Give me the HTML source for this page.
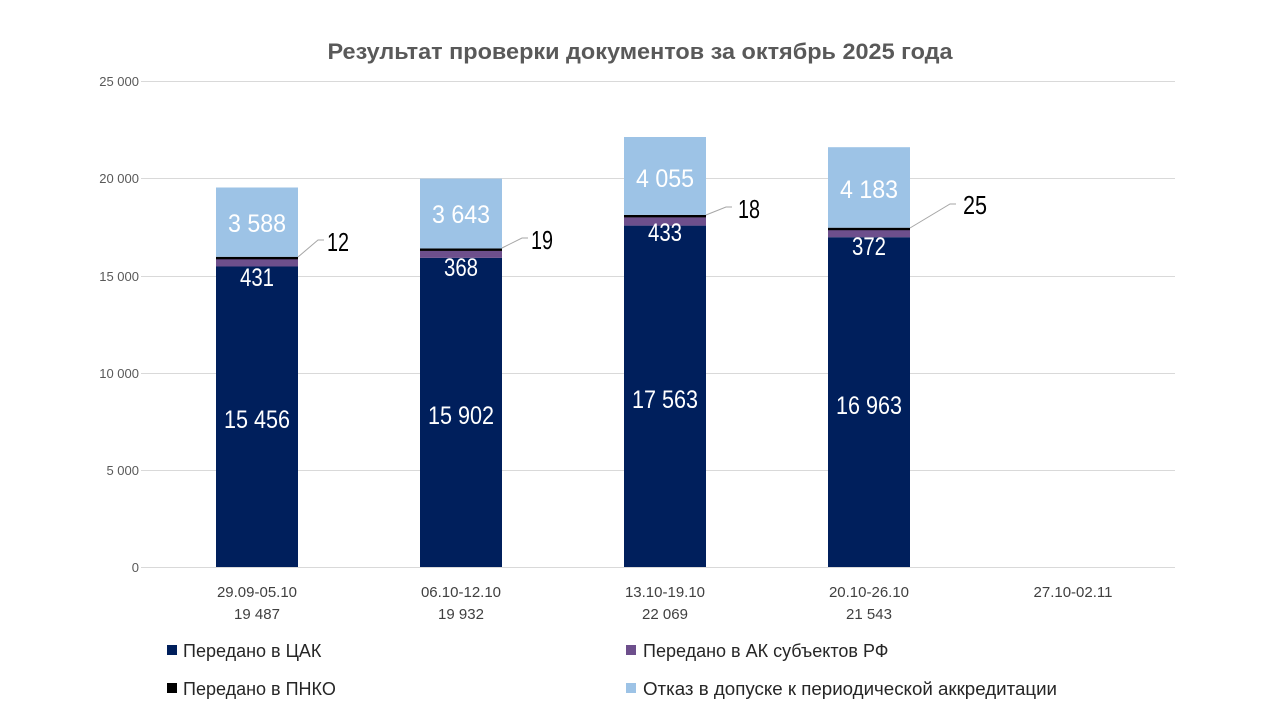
<!DOCTYPE html>
<html><head><meta charset="utf-8"><style>
body{margin:0;background:#fff;}
svg{display:block;font-family:"Liberation Sans",sans-serif;}
</style></head><body>
<svg width="1280" height="720" viewBox="0 0 1280 720">
<text x="640" y="59" text-anchor="middle" font-size="22" font-weight="bold" fill="#595959" textLength="625" lengthAdjust="spacingAndGlyphs">Результат проверки документов за октябрь 2025 года</text>
<g stroke="#d9d9d9" stroke-width="1">
<line x1="141" y1="81.5" x2="1175" y2="81.5"/>
<line x1="141" y1="178.5" x2="1175" y2="178.5"/>
<line x1="141" y1="276.5" x2="1175" y2="276.5"/>
<line x1="141" y1="373.5" x2="1175" y2="373.5"/>
<line x1="141" y1="470.5" x2="1175" y2="470.5"/>
<line x1="141" y1="567.5" x2="1175" y2="567.5"/>
</g>
<g font-size="13" fill="#595959" text-anchor="end">
<text x="139" y="86">25 000</text>
<text x="139" y="183">20 000</text>
<text x="139" y="281">15 000</text>
<text x="139" y="378">10 000</text>
<text x="139" y="475">5 000</text>
<text x="139" y="572">0</text>
</g>
<g>
<rect x="216" y="266.5" width="82" height="300.5" fill="#001f5c"/>
<rect x="216" y="258.1" width="82" height="8.4" fill="#6d4f8c"/>
<rect x="216" y="256.8" width="82" height="2.5" fill="#000"/>
<rect x="216" y="187.5" width="82" height="69.3" fill="#9dc3e6"/>

<rect x="420" y="257.9" width="82" height="309.1" fill="#001f5c"/>
<rect x="420" y="250.7" width="82" height="7.2" fill="#6d4f8c"/>
<rect x="420" y="248.4" width="82" height="2.5" fill="#000"/>
<rect x="420" y="178.6" width="82" height="69.8" fill="#9dc3e6"/>

<rect x="624" y="225.6" width="82" height="341.4" fill="#001f5c"/>
<rect x="624" y="217.2" width="82" height="8.4" fill="#6d4f8c"/>
<rect x="624" y="214.9" width="82" height="2.5" fill="#000"/>
<rect x="624" y="137" width="82" height="77.9" fill="#9dc3e6"/>

<rect x="828" y="237.2" width="82" height="329.8" fill="#001f5c"/>
<rect x="828" y="230" width="82" height="7.2" fill="#6d4f8c"/>
<rect x="828" y="227.7" width="82" height="2.5" fill="#000"/>
<rect x="828" y="147.2" width="82" height="80.5" fill="#9dc3e6"/>
</g>
<g font-size="25" fill="#fff" text-anchor="middle">
<text x="257" y="428" textLength="66" lengthAdjust="spacingAndGlyphs">15 456</text>
<text x="257" y="286" textLength="34" lengthAdjust="spacingAndGlyphs">431</text>
<text x="257" y="232" textLength="58" lengthAdjust="spacingAndGlyphs">3 588</text>
<text x="461" y="424" textLength="66" lengthAdjust="spacingAndGlyphs">15 902</text>
<text x="461" y="276" textLength="34" lengthAdjust="spacingAndGlyphs">368</text>
<text x="461" y="223" textLength="58" lengthAdjust="spacingAndGlyphs">3 643</text>
<text x="665" y="408" textLength="66" lengthAdjust="spacingAndGlyphs">17 563</text>
<text x="665" y="241" textLength="34" lengthAdjust="spacingAndGlyphs">433</text>
<text x="665" y="187" textLength="58" lengthAdjust="spacingAndGlyphs">4 055</text>
<text x="869" y="414" textLength="66" lengthAdjust="spacingAndGlyphs">16 963</text>
<text x="869" y="255" textLength="34" lengthAdjust="spacingAndGlyphs">372</text>
<text x="869" y="198" textLength="58" lengthAdjust="spacingAndGlyphs">4 183</text>
</g>
<g stroke="#a6a6a6" stroke-width="1" fill="none">
<polyline points="298,257 318,240 324,240"/>
<polyline points="502,248 522,238 528,238"/>
<polyline points="706,215 726,207 732,207"/>
<polyline points="910,228 950,204 956,204"/>
</g>
<g font-size="26" fill="#000">
<text x="327" y="251" textLength="22" lengthAdjust="spacingAndGlyphs">12</text>
<text x="531" y="249" textLength="22" lengthAdjust="spacingAndGlyphs">19</text>
<text x="738" y="218" textLength="22" lengthAdjust="spacingAndGlyphs">18</text>
<text x="963" y="214" textLength="24" lengthAdjust="spacingAndGlyphs">25</text>
</g>
<g font-size="15" fill="#404040" text-anchor="middle">
<text x="257" y="597">29.09-05.10</text><text x="257" y="619">19 487</text>
<text x="461" y="597">06.10-12.10</text><text x="461" y="619">19 932</text>
<text x="665" y="597">13.10-19.10</text><text x="665" y="619">22 069</text>
<text x="869" y="597">20.10-26.10</text><text x="869" y="619">21 543</text>
<text x="1073" y="597">27.10-02.11</text>
</g>
<g font-size="18" fill="#262626">
<rect x="167" y="645" width="10" height="10" fill="#001f5c"/>
<text x="183" y="657">Передано в ЦАК</text>
<rect x="626" y="645" width="10" height="10" fill="#6d4f8c"/>
<text x="643" y="657">Передано в АК субъектов РФ</text>
<rect x="167" y="683" width="10" height="10" fill="#000"/>
<text x="183" y="695">Передано в ПНКО</text>
<rect x="626" y="683" width="10" height="10" fill="#9dc3e6"/>
<text x="643" y="695" textLength="414" lengthAdjust="spacingAndGlyphs">Отказ в допуске к периодической аккредитации</text>
</g>
</svg>
</body></html>
